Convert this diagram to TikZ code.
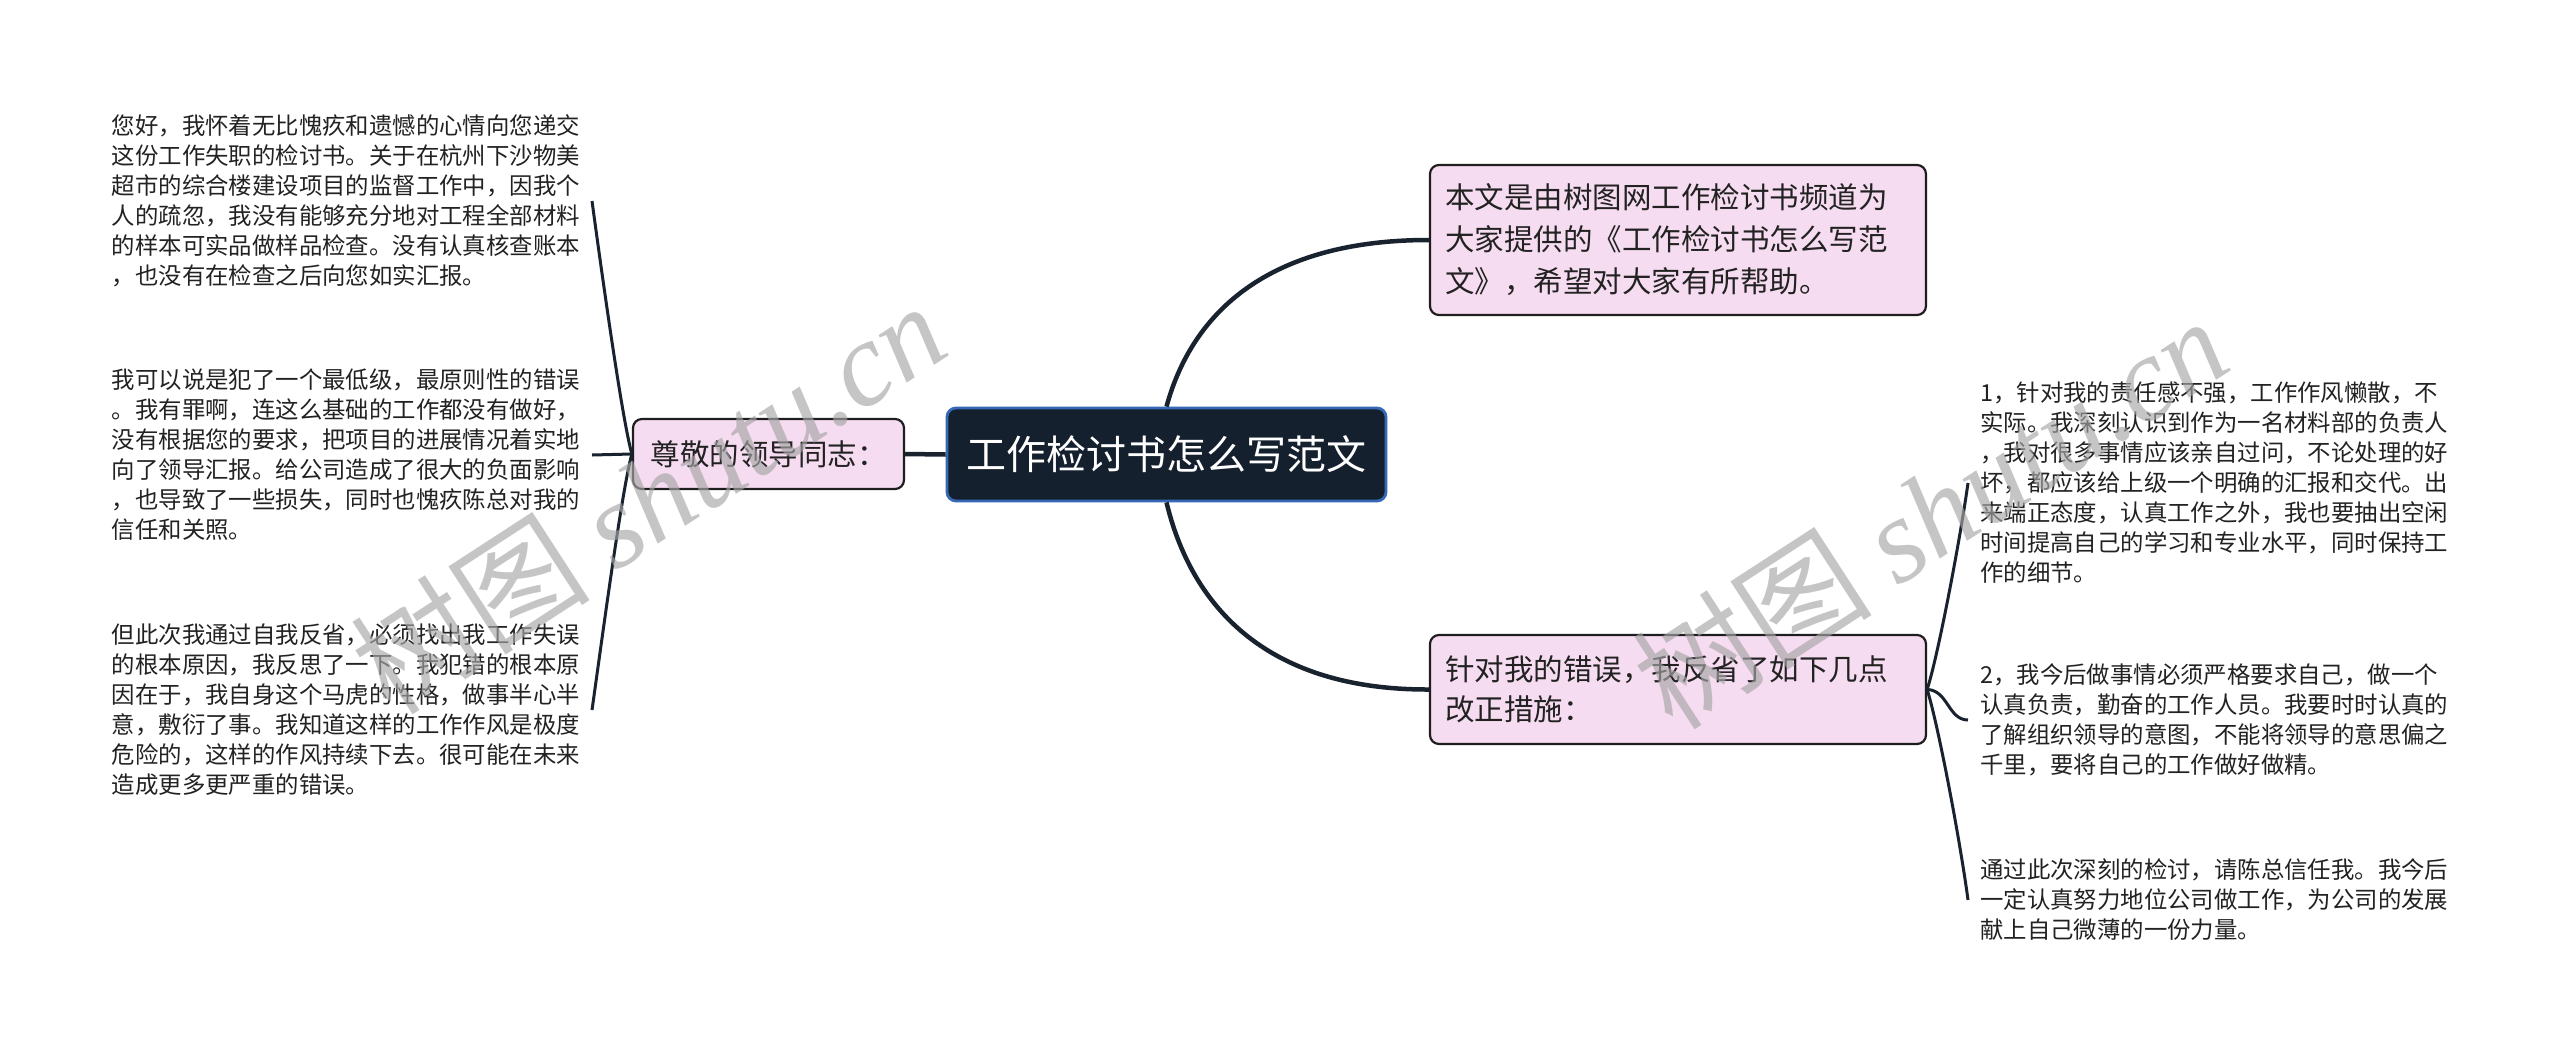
\documentclass[tikz,border=0pt]{standalone}
\usepackage{fontspec}
\setmainfont{Noto Sans CJK SC}
\newfontfamily\cjkfont{Noto Sans CJK SC}
\newfontfamily\wmlat{Liberation Serif}
\definecolor{pinkfill}{HTML}{F6DCF0}
\definecolor{nodeline}{HTML}{1E1E1E}
\definecolor{centralfill}{HTML}{15202E}
\definecolor{centralline}{HTML}{3568B5}
\definecolor{linkcol}{HTML}{19232F}
\definecolor{txtcol}{HTML}{222222}
\begin{document}
\begin{tikzpicture}[x=1pt,y=-1pt,
  topic/.style={draw=nodeline, line width=2.2pt, fill=pinkfill, rounded corners=9pt,
    font=\fontsize{29.5}{42}\selectfont, text=txtcol, inner xsep=15pt, inner ysep=0pt},
  centraltopic/.style={draw=centralline, line width=2.8pt, fill=centralfill, rounded corners=9pt,
    font=\fontsize{40}{48}\selectfont, text=white, minimum width=439pt, minimum height=93pt},
  leaf/.style={font=\fontsize{23.4}{30}\selectfont, text=txtcol, align=left,
    inner xsep=12pt, inner ysep=0pt},
  mainlink/.style={draw=linkcol, line width=4.5pt},
  sublink/.style={draw=linkcol, line width=3pt},
  wm/.style={font=\fontsize{120}{120}\selectfont, text=black!35, text opacity=0.65, inner sep=0pt}
]
\fill[white] (0,0) rectangle (2560,1055);
\useasboundingbox (0,0) rectangle (2560,1055);

% central
\node[centraltopic] (center) at (1166.5,454.5) {工作检讨书怎么写范文};

% level-1 topics
\node[topic, minimum width=271pt, minimum height=70pt] (ln) at (768.5,454) {尊敬的领导同志：};
\node[topic, minimum width=496pt, minimum height=150pt, text width=466pt, align=left] (rt) at (1678,240)
  {本文是由树图网工作检讨书频道为\\大家提供的《工作检讨书怎么写范\\文》，希望对大家有所帮助。};
\node[topic, minimum width=496pt, minimum height=109pt, text width=466pt, align=left,
  font=\fontsize{29.5}{40}\selectfont] (rb) at (1678,689.5)
  {针对我的错误，我反省了如下几点\\改正措施：};

% left leaves
\node[leaf, anchor=east] (lb1) at (592,201)
  {您好，我怀着无比愧疚和遗憾的心情向您递交\\这份工作失职的检讨书。关于在杭州下沙物美\\超市的综合楼建设项目的监督工作中，因我个\\人的疏忽，我没有能够充分地对工程全部材料\\的样本可实品做样品检查。没有认真核查账本\\，也没有在检查之后向您如实汇报。};
\node[leaf, anchor=east] (lb2) at (592,455)
  {我可以说是犯了一个最低级，最原则性的错误\\。我有罪啊，连这么基础的工作都没有做好，\\没有根据您的要求，把项目的进展情况着实地\\向了领导汇报。给公司造成了很大的负面影响\\，也导致了一些损失，同时也愧疚陈总对我的\\信任和关照。};
\node[leaf, anchor=east] (lb3) at (592,710)
  {但此次我通过自我反省，必须找出我工作失误\\的根本原因，我反思了一下。我犯错的根本原\\因在于，我自身这个马虎的性格，做事半心半\\意，敷衍了事。我知道这样的工作作风是极度\\危险的，这样的作风持续下去。很可能在未来\\造成更多更严重的错误。};

% right leaves
\node[leaf, anchor=west] (rt1) at (1968,483)
  {1，针对我的责任感不强，工作作风懒散，不\\实际。我深刻认识到作为一名材料部的负责人\\，我对很多事情应该亲自过问，不论处理的好\\坏，都应该给上级一个明确的汇报和交代。出\\来端正态度，认真工作之外，我也要抽出空闲\\时间提高自己的学习和专业水平，同时保持工\\作的细节。};
\node[leaf, anchor=west] (rt2) at (1968,720)
  {2，我今后做事情必须严格要求自己，做一个\\认真负责，勤奋的工作人员。我要时时认真的\\了解组织领导的意图，不能将领导的意思偏之\\千里，要将自己的工作做好做精。};
\node[leaf, anchor=west] (rt3) at (1968,900)
  {通过此次深刻的检讨，请陈总信任我。我今后\\一定认真努力地位公司做工作，为公司的发展\\献上自己微薄的一份力量。};

% main connectors
\draw[mainlink] (center.north) .. controls (1190,320) and (1260,240) .. (rt.west);
\draw[mainlink] (center.south) .. controls (1190,600) and (1260,690) .. (rb.west);
\draw[mainlink] (ln.east) -- (center.west);

% left sub connectors
\draw[sublink] (ln.west) .. controls (622,420) and (600,260) .. (lb1.east);
\draw[sublink] (ln.west) -- (lb2.east);
\draw[sublink] (ln.west) .. controls (622,488) and (600,654) .. (lb3.east);

% right sub connectors
\draw[sublink] (rb.east) .. controls (1938,656) and (1960,540) .. (rt1.west);
\draw[sublink] (rb.east) .. controls (1948,690) and (1948,720) .. (rt2.west);
\draw[sublink] (rb.east) .. controls (1938,724) and (1960,840) .. (rt3.west);

% watermarks
\node[wm, rotate=33] (wm1) at (648,497) {{\cjkfont 树图} {\wmlat\itshape shutu.cn}};
\node[wm, rotate=33] (wm2) at (1930,512) {{\cjkfont 树图} {\wmlat\itshape shutu.cn}};
\end{tikzpicture}
\end{document}
